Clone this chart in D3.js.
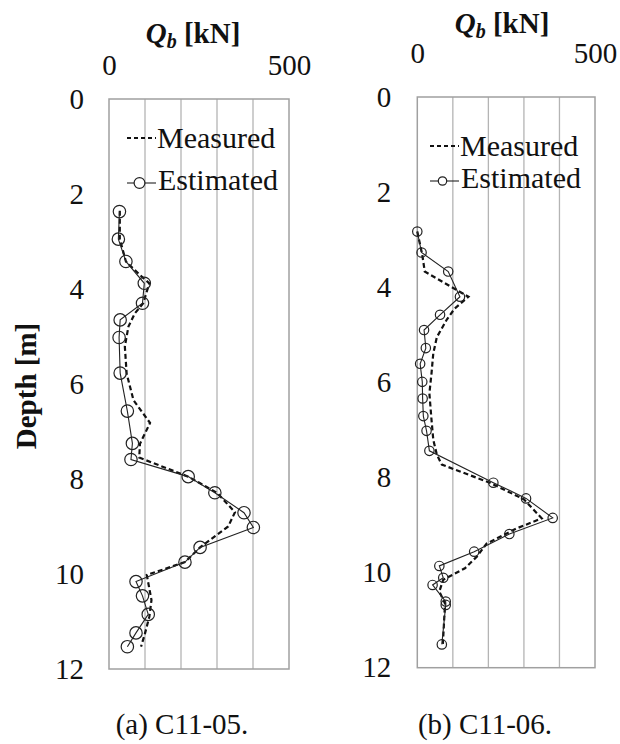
<!DOCTYPE html>
<html>
<head>
<meta charset="utf-8">
<script src="https://cdn.jsdelivr.net/npm/d3@7/dist/d3.min.js"></script>
<style>
  html, body { margin: 0; padding: 0; background: #fff; }
  svg { display: block; }
  svg text { font-family: "Liberation Serif", "Times New Roman", Times, serif !important; fill: #111; }
</style>
</head>
<body>
<svg id="chart" width="620" height="744"></svg>
<script>
// Axis ticks
const qTicks = [0, 500];
const depthTicks = [0, 2, 4, 6, 8, 10, 12];
const gridValues = [100, 200, 300, 400];

// C11-05: estimated base resistance (depth m, Qb kN)
const estDepthA = [2.37, 2.95, 3.42, 3.88, 4.30, 4.65, 5.02, 5.77, 6.57, 7.25, 7.59, 7.95, 8.29, 8.71, 9.02, 9.44, 9.75, 10.16, 10.46, 10.85, 11.24, 11.53];
const estQbA    = [29, 26, 47, 98, 93, 31, 28, 31, 51, 65, 61, 220, 294, 375, 401, 253, 211, 75, 93, 109, 75, 51];
// C11-05: measured base resistance
const measDepthA = [2.35, 2.95, 3.42, 3.74, 3.88, 4.30, 4.51, 4.79, 5.21, 5.78, 6.34, 6.82, 7.26, 7.55, 7.95, 8.29, 8.70, 9.00, 9.44, 9.75, 10.02, 10.55, 10.90, 11.25, 11.53];
const measQbA    = [30, 30, 47, 91, 112, 95, 72, 54, 44, 49, 68, 114, 86, 84, 220, 300, 350, 331, 253, 211, 105, 118, 112, 100, 89];

// C11-06: estimated base resistance
const estDepthB = [2.83, 3.27, 3.67, 4.20, 4.58, 4.90, 5.28, 5.61, 5.99, 6.34, 6.71, 7.02, 7.44, 8.11, 8.44, 8.85, 9.19, 9.56, 9.86, 10.11, 10.26, 10.61, 10.68, 11.51];
const estQbB    = [0, 12, 87, 120, 64, 19, 24, 8, 14, 15, 17, 26, 34, 214, 306, 381, 259, 160, 62, 73, 43, 80, 80, 69];
// C11-06: measured base resistance
const measDepthB = [2.83, 3.32, 3.67, 4.20, 4.45, 4.68, 5.05, 5.39, 5.81, 6.23, 6.79, 7.21, 7.52, 7.73, 8.11, 8.46, 8.86, 9.07, 9.39, 9.66, 9.91, 10.15, 10.40, 10.65, 11.50];
const measQbB    = [0, 14, 21, 144, 105, 83, 55, 45, 40, 34, 40, 45, 55, 69, 204, 300, 350, 280, 195, 168, 134, 73, 62, 78, 72];

const legendLabels = ["Measured", "Estimated"];
const captions = ["(a) C11-05.", "(b) C11-06."];

const svg = d3.select("#chart");

const panels = [
  { left: 109, right: 289, top: 99, bottom: 669, r: 6.2,
    titleX: 193, titleY: 43, qPad: 24, dPad: 25,
    est: estDepthA.map((d, i) => [d, estQbA[i]]),
    meas: measDepthA.map((d, i) => [d, measQbA[i]]),
    legX: 127, legY1: 138, legY2: 183, legR: 5.4, captionX: 182, caption: captions[0] },
  { left: 417.3, right: 595, top: 97, bottom: 667.7, r: 4.7,
    titleX: 502, titleY: 33, qPad: 34, dPad: 26,
    est: estDepthB.map((d, i) => [d, estQbB[i]]),
    meas: measDepthB.map((d, i) => [d, measQbB[i]]),
    legX: 430, legY1: 146, legY2: 181, legR: 4.2, captionX: 485, caption: captions[1] }
];

panels.forEach(p => {
  const x = d3.scaleLinear().domain([0, 500]).range([p.left, p.right]);
  const y = d3.scaleLinear().domain([0, 12]).range([p.top, p.bottom]);
  const g = svg.append("g");

  // vertical gridlines
  g.selectAll("line.grid").data(gridValues).join("line")
    .attr("class", "grid")
    .attr("x1", d => x(d)).attr("x2", d => x(d))
    .attr("y1", p.top).attr("y2", p.bottom)
    .attr("stroke", "#b4b4b4").attr("stroke-width", 1.3);

  // plot frame
  g.append("rect")
    .attr("x", p.left).attr("y", p.top)
    .attr("width", p.right - p.left).attr("height", p.bottom - p.top)
    .attr("fill", "none").attr("stroke", "#a0a0a0").attr("stroke-width", 1.5);

  // top Qb axis labels
  const axT = g.append("g").attr("transform", `translate(0,${p.top})`)
    .call(d3.axisTop(x).tickValues(qTicks).tickSize(0).tickPadding(p.qPad).tickFormat(d3.format("d")));
  axT.select(".domain").remove();
  axT.attr("font-family", null).attr("font-size", null);
  axT.selectAll("text").style("font-size", "29px").attr("fill", "#111");

  // depth axis labels
  const axL = g.append("g").attr("transform", `translate(${p.left},0)`)
    .call(d3.axisLeft(y).tickValues(depthTicks).tickSize(0).tickPadding(p.dPad).tickFormat(d3.format("d")));
  axL.select(".domain").remove();
  axL.attr("font-family", null).attr("font-size", null);
  axL.selectAll("text").style("font-size", "29px").attr("fill", "#111");

  // axis title Qb [kN]
  const t = g.append("text").attr("x", p.titleX).attr("y", p.titleY)
    .attr("text-anchor", "middle").style("font-size", "29px").style("font-weight", "bold");
  t.append("tspan").text("Q").style("font-style", "italic");
  t.append("tspan").text("b").style("font-style", "italic").style("font-size", "20px").attr("dy", 5);
  t.append("tspan").text(" [kN]").attr("dy", -5);

  const line = d3.line().x(d => x(d[1])).y(d => y(d[0]));

  // measured (dashed)
  g.append("path").datum(p.meas).attr("d", line)
    .attr("fill", "none").attr("stroke", "#111").attr("stroke-width", 2.2)
    .attr("stroke-dasharray", "5,3");

  // estimated (solid with open circles)
  g.append("path").datum(p.est).attr("d", line)
    .attr("fill", "none").attr("stroke", "#222").attr("stroke-width", 1.1);
  g.selectAll("circle.est").data(p.est).join("circle")
    .attr("class", "est")
    .attr("cx", d => x(d[1])).attr("cy", d => y(d[0])).attr("r", p.r)
    .attr("fill", "none").attr("stroke", "#222").attr("stroke-width", 1.2);

  // legend
  const lw = 29;
  g.append("line").attr("x1", p.legX).attr("x2", p.legX + lw)
    .attr("y1", p.legY1).attr("y2", p.legY1)
    .attr("stroke", "#111").attr("stroke-width", 2).attr("stroke-dasharray", "4,3");
  g.append("text").attr("x", p.legX + lw + 1).attr("y", p.legY1 + 10)
    .style("font-size", "30px").text(legendLabels[0]);
  g.append("line").attr("x1", p.legX).attr("x2", p.legX + lw)
    .attr("y1", p.legY2).attr("y2", p.legY2)
    .attr("stroke", "#222").attr("stroke-width", 1.1);
  g.append("circle").attr("cx", p.legX + lw / 2 - 2).attr("cy", p.legY2).attr("r", p.legR)
    .attr("fill", "#fff").attr("stroke", "#222").attr("stroke-width", 1.2);
  g.append("text").attr("x", p.legX + lw + 2).attr("y", p.legY2 + 7)
    .style("font-size", "30px").text(legendLabels[1]);

  // caption
  g.append("text").attr("x", p.captionX).attr("y", 734)
    .attr("text-anchor", "middle").style("font-size", "29px").text(p.caption);
});

// shared depth title
svg.append("text")
  .attr("transform", "translate(36,386) rotate(-90)")
  .attr("text-anchor", "middle")
  .style("font-size", "29px").style("font-weight", "bold")
  .text("Depth [m]");
</script>
</body>
</html>
